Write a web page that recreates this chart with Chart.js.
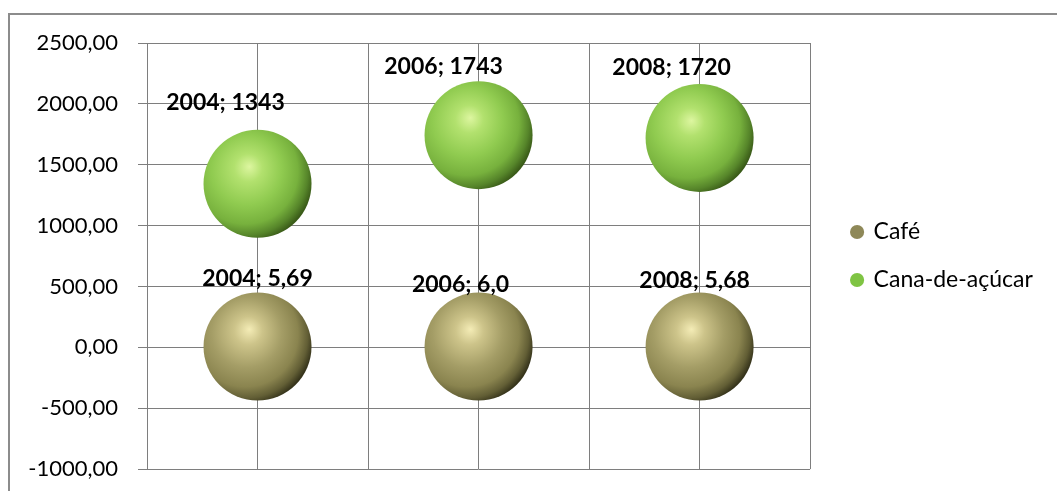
<!DOCTYPE html>
<html lang="pt-BR">
<head>
<meta charset="utf-8">
<title>Café e Cana-de-açúcar</title>
<script src="https://cdn.jsdelivr.net/npm/chart.js@4"></script>
<style>
    html, body { margin: 0; padding: 0; background: #fff; overflow: hidden; }
    #moldura {
        position: absolute; left: 8px; top: 13px; width: 1100px; height: 520px;
        border-top: 2px solid #8c8c8c; border-left: 2px solid #8c8c8c;
    }
    #grafico { position: absolute; left: 0; top: 0; }
</style>
</head>
<body>
<div id="moldura"></div>
<canvas id="grafico" width="1057" height="491"></canvas>
<script>
// Dados
const anos = [2004, 2006, 2008];
const cafe = [5.69, 6.0, 5.68];
const canaDeAcucar = [1343, 1743, 1720];
const nomesSeries = ["Café", "Cana-de-açúcar"];

const fonte = "Lato, 'Open Sans', sans-serif";

// Formata o valor no padrão brasileiro (vírgula decimal)
function formatar(valor, minCasas) {
    const texto = String(valor);
    const casas = texto.includes(".") ? texto.split(".")[1].length : 0;
    return valor.toFixed(Math.max(casas, minCasas)).replace(".", ",");
}

// Preenchimento em degradê para dar aparência de esfera
function esfera(cores) {
    return (context) => {
        const chart = context.chart;
        const ponto = context.raw;
        if (!chart.chartArea || !ponto || context.type !== "data") return cores[2];
        const cx = chart.scales.x.getPixelForValue(ponto.x);
        const cy = chart.scales.y.getPixelForValue(ponto.y);
        const r = context.dataset.radius;
        const g = chart.ctx.createRadialGradient(
            cx - r * 0.15, cy - r * 0.32, 0,
            cx - r * 0.25, cy - r * 0.2, r * 1.3
        );
        const paradas = [0, 0.2, 0.5, 0.75, 0.9, 1];
        paradas.forEach((p, i) => g.addColorStop(p, cores[i]));
        return g;
    };
}

const coresCafe = ["#f4ecb6", "#cdc48a", "#a49d66", "#8a844f", "#625e35", "#36341b"];
const coresCana = ["#ddf6a0", "#b2e16e", "#90cb50", "#77b13d", "#56852a", "#3a5b18"];

// Rótulos "ano; valor" sobre cada bolha
const rotulosBolhas = {
    id: "rotulosBolhas",
    afterDatasetsDraw(chart) {
        const ctx = chart.ctx;
        ctx.save();
        ctx.font = "bold 23px " + fonte;
        ctx.fillStyle = "#000";
        ctx.textAlign = "center";
        ctx.textBaseline = "middle";
        chart.data.datasets.forEach((ds, i) => {
            chart.getDatasetMeta(i).data.forEach((el, j) => {
                const p = ds.data[j];
                const texto = p.x + "; " + formatar(p.y, ds.casasDecimais);
                const [dx, dy] = ds.deslocRotulo[j];
                ctx.fillText(texto, el.x + dx, el.y + dy);
            });
        });
        ctx.restore();
    }
};

new Chart(document.getElementById("grafico"), {
    type: "bubble",
    data: {
        datasets: [
            {
                label: nomesSeries[0],
                data: anos.map((a, i) => ({ x: a, y: cafe[i] })),
                radius: 54,
                borderWidth: 0,
                backgroundColor: esfera(coresCafe),
                corLegenda: "#8e8858",
                casasDecimais: 1,
                deslocRotulo: [[0, -68], [-18, -62], [-5, -66]]
            },
            {
                label: nomesSeries[1],
                data: anos.map((a, i) => ({ x: a, y: canaDeAcucar[i] })),
                radius: 54,
                borderWidth: 0,
                backgroundColor: esfera(coresCana),
                corLegenda: "#7fc443",
                casasDecimais: 0,
                deslocRotulo: [[-32, -81], [-35, -69], [-28, -70]]
            }
        ]
    },
    options: {
        responsive: false,
        animation: false,
        events: [],
        layout: {
            autoPadding: false,
            padding: { left: 0, top: 43, right: 14.2, bottom: 0 }
        },
        scales: {
            x: {
                type: "linear",
                min: 2003,
                max: 2009,
                ticks: { stepSize: 1, display: false },
                grid: { color: "#7e7e7e", lineWidth: 1, drawTicks: false },
                border: { display: false },
                afterFit: (escala) => { escala.height = 22; }
            },
            y: {
                min: -1000,
                max: 2500,
                ticks: {
                    stepSize: 500,
                    padding: 20,
                    color: "#000",
                    font: { family: fonte, size: 22 },
                    callback: (v) => formatar(v, 2)
                },
                grid: { color: "#7e7e7e", lineWidth: 1, tickLength: 9 },
                border: { display: false },
                afterFit: (escala) => {
                    escala.width = 147;
                    escala.paddingTop = 0;
                    escala.paddingBottom = 0;
                }
            },
            // espaço vazio entre a área do gráfico e a legenda
            espaco: {
                position: "right",
                display: false,
                afterFit: (escala) => { escala.width = 17; }
            }
        },
        plugins: {
            tooltip: { enabled: false },
            legend: {
                position: "right",
                fullSize: false,
                labels: {
                    usePointStyle: true,
                    pointStyle: "circle",
                    boxWidth: 10,
                    boxHeight: 10,
                    padding: 25,
                    color: "#000",
                    font: { family: fonte, size: 23 },
                    generateLabels: (chart) =>
                        Chart.defaults.plugins.legend.labels.generateLabels(chart).map((item) => {
                            const cor = chart.data.datasets[item.datasetIndex].corLegenda;
                            item.fillStyle = cor;
                            item.strokeStyle = cor;
                            item.lineWidth = 0;
                            return item;
                        })
                }
            }
        }
    },
    plugins: [rotulosBolhas]
});
</script>
</body>
</html>
